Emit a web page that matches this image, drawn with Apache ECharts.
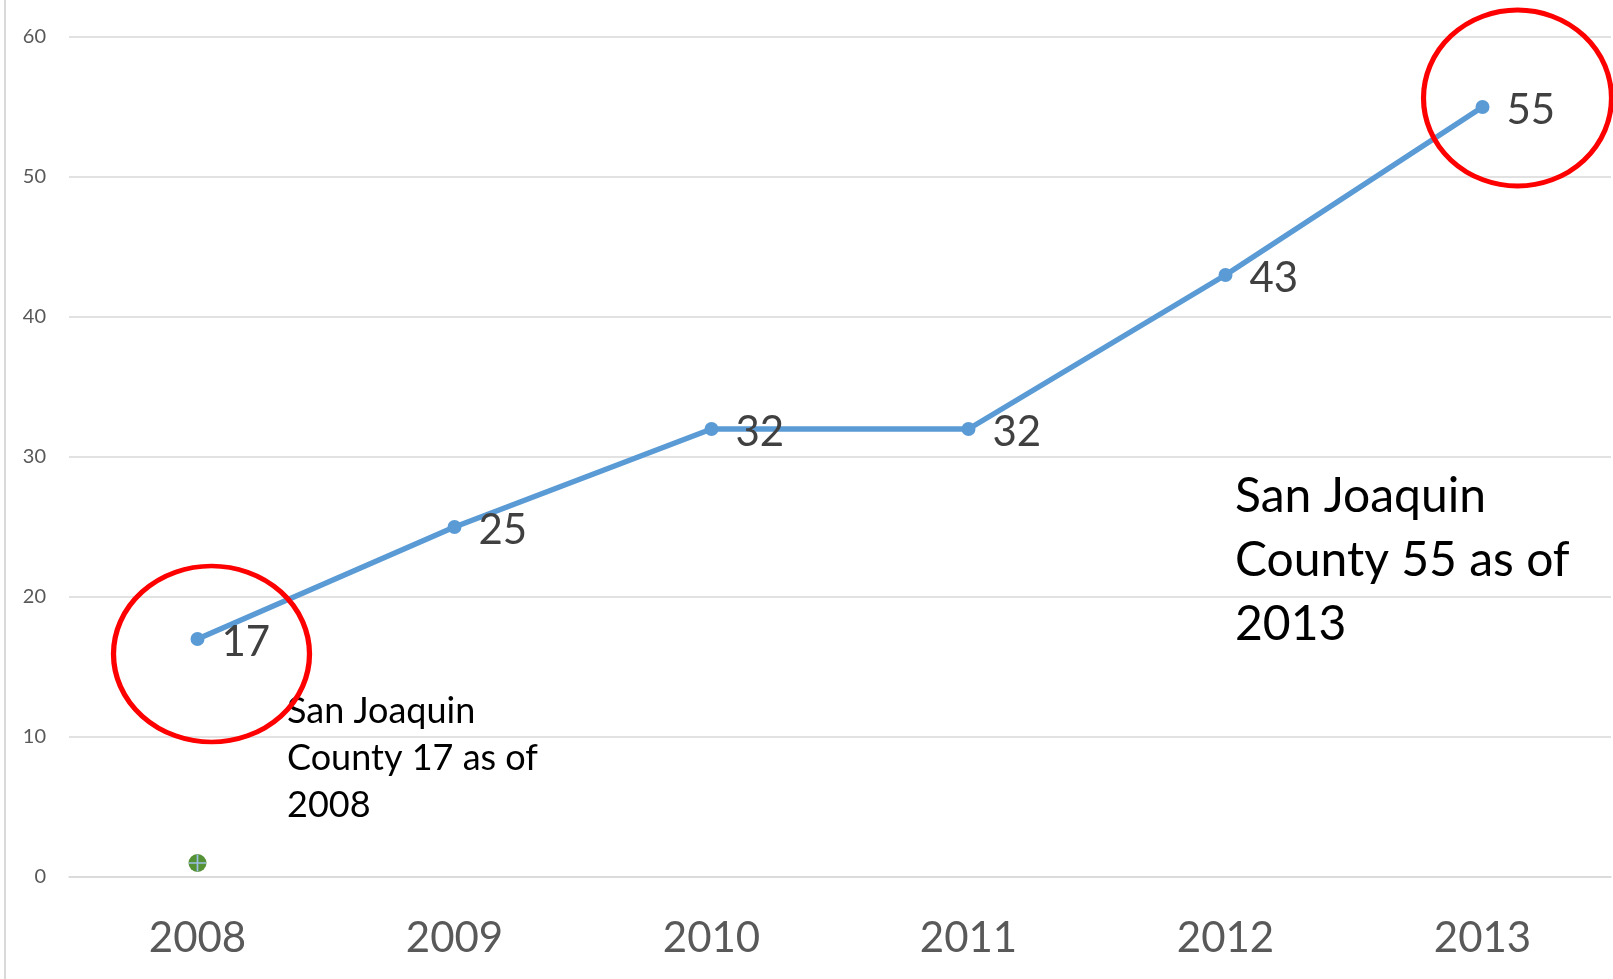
<!DOCTYPE html>
<html>
<head>
<meta charset="utf-8">
<script src="https://cdn.jsdelivr.net/npm/echarts@6/dist/echarts.min.js"></script>
<style>
  html, body { margin: 0; padding: 0; background: #fff; }
  #chart { width: 1613px; height: 979px; }
</style>
</head>
<body>
<div id="chart"></div>
<script>
// years and counts
const years = ['2008', '2009', '2010', '2011', '2012', '2013'];
const counts = [17, 25, 32, 32, 43, 55];
// second (tiny) series - only one point shown near the bottom
const markerValues = [1, null, null, null, null, null];
const yTicks = [0, 10, 20, 30, 40, 50, 60];

const labelFont = 'Lato, "Open Sans", sans-serif';

const chart = echarts.init(document.getElementById('chart'));

const option = {
  animation: false,
  backgroundColor: '#ffffff',
  grid: { left: 69, right: 2, top: 37, bottom: 102 },
  xAxis: {
    type: 'category',
    data: years,
    boundaryGap: true,
    axisLine: { show: true, lineStyle: { color: '#d9d9d9', width: 1.5 } },
    axisTick: { show: false },
    axisLabel: { color: '#595959', fontSize: 42, fontFamily: labelFont, margin: 40 }
  },
  yAxis: {
    type: 'value',
    min: yTicks[0],
    max: yTicks[yTicks.length - 1],
    interval: 10,
    axisLine: { show: false },
    axisTick: { show: false },
    axisLabel: { color: '#595959', fontSize: 20, fontFamily: labelFont, margin: 23 },
    splitLine: { lineStyle: { color: '#d9d9d9', width: 1.5 } }
  },
  series: [
    {
      name: 'count',
      type: 'line',
      data: counts,
      symbol: 'circle',
      symbolSize: 14,
      lineStyle: { color: '#5b9bd5', width: 5.5 },
      itemStyle: { color: '#5b9bd5' },
      label: {
        show: true,
        position: 'right',
        distance: 17,
        offset: [0, 3],
        color: '#404040',
        fontSize: 42,
        fontFamily: labelFont
      },
      markPoint: {
        silent: true,
        symbol: 'circle',
        label: { show: false },
        itemStyle: { color: 'rgba(0,0,0,0)', borderColor: '#ff0000', borderWidth: 5 },
        data: [
          { coord: [years[0], counts[0]], symbolSize: [196, 176], symbolOffset: [14, 15] },
          { coord: [years[5], counts[5]], symbolSize: [188, 176], symbolOffset: [35, -9] }
        ]
      },
      z: 3
    },
    {
      name: 'marker',
      type: 'line',
      data: markerValues,
      showSymbol: true,
      symbol: 'circle',
      symbolSize: 18,
      lineStyle: { width: 0 },
      itemStyle: { color: '#559135' },
      z: 4
    },
    {
      name: 'marker-cross',
      type: 'line',
      data: markerValues,
      showSymbol: true,
      symbol: 'path://M9,0 L11,0 L11,9 L20,9 L20,11 L11,11 L11,20 L9,20 L9,11 L0,11 L0,9 L9,9 Z',
      symbolSize: 17,
      lineStyle: { width: 0 },
      itemStyle: { color: '#9dbfe6' },
      z: 5
    }
  ],
  graphic: [
    {
      type: 'line',
      shape: { x1: 5, y1: 0, x2: 5, y2: 979 },
      style: { stroke: '#d9d9d9', lineWidth: 2 }
    },
    {
      type: 'text',
      left: 287,
      top: 688,
      style: {
        text: 'San Joaquin\nCounty 17 as of\n2008',
        font: '36px ' + labelFont,
        lineHeight: 47,
        fill: '#000000'
      }
    },
    {
      type: 'text',
      left: 1235,
      top: 465,
      style: {
        text: 'San Joaquin\nCounty 55 as of\n2013',
        font: '48px ' + labelFont,
        lineHeight: 64,
        fill: '#000000'
      }
    }
  ]
};

chart.setOption(option);
</script>
</body>
</html>
